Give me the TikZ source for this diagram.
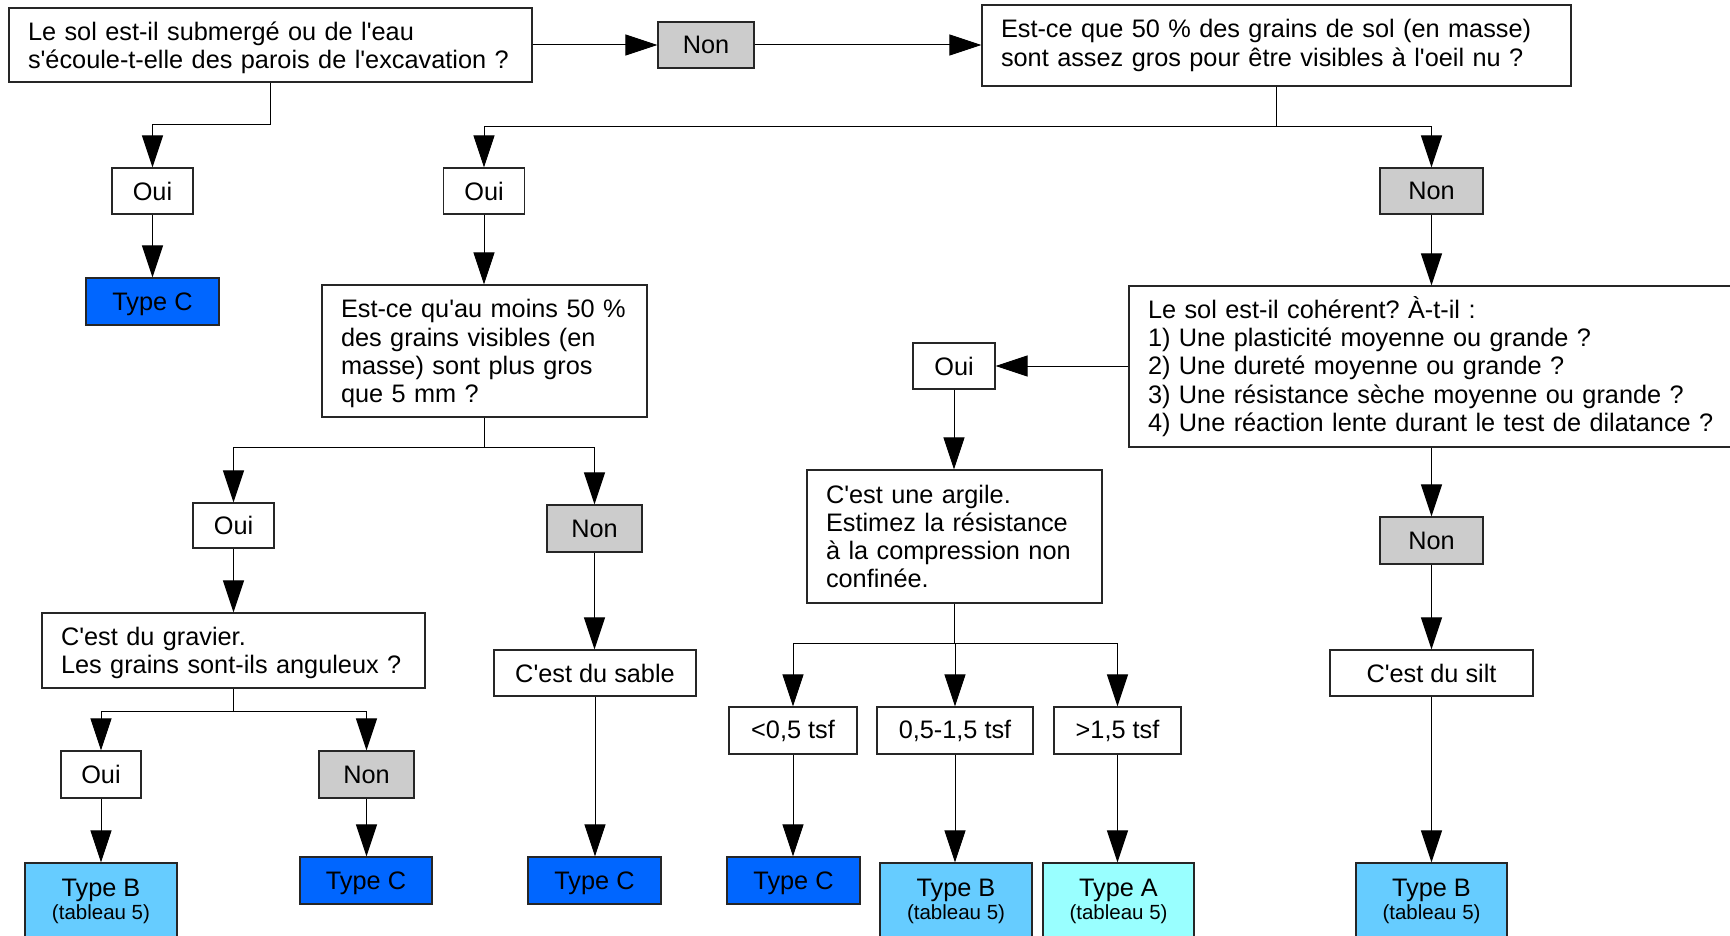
\documentclass[tikz,border=0pt]{standalone}
\usepackage{fontspec}
\setmainfont{Liberation Sans}
\newfontfamily\libsans{Liberation Sans}
\usetikzlibrary{arrows.meta}
\definecolor{typec}{HTML}{0066FF}
\definecolor{typeb}{HTML}{66CCFF}
\definecolor{typea}{HTML}{99FFFF}
\definecolor{nongrey}{HTML}{CCCCCC}
\newcommand\mainf{\libsans\frenchspacing\fontsize{25.3}{28.3}\selectfont}
\newcommand\smallf{\fontsize{20.5}{23}\selectfont}
\newcommand\tallstrut{\rule{0pt}{23.8pt}}
\begin{document}
\begin{tikzpicture}[x=1pt,y=-1pt, font=\mainf,
  box/.style={draw=black!85, line width=1.2pt, fill=white, inner sep=0pt, align=center},
  qbox/.style={draw=black!85, line width=1.2pt, fill=white, inner xsep=19pt, inner ysep=0pt, align=left},
  greybox/.style={box, fill=nongrey},
  tcbox/.style={box, fill=typec, text depth=0pt},
  tbbox/.style={box, fill=typeb, font=\mainf\fontsize{25.3}{23}\selectfont},
  tabox/.style={box, fill=typea, font=\mainf\fontsize{25.3}{23}\selectfont},
  arr/.style={line width=1pt, -{Triangle[length=32pt,width=21pt]}},
  ln/.style={line width=1pt}]
\useasboundingbox (0,0) rectangle (1730,936);

% question boxes
\node[qbox, text width=485pt, minimum height=74pt] (q1) at (270.5,45)
  {\tallstrut\mbox{Le sol est-il submergé ou de l'eau}\\\mbox{s'écoule-t-elle des parois de l'excavation ?}};
\node[qbox, text width=551pt, minimum height=81pt] (q2) at (1276.5,45.5)
  {\mbox{Est-ce que 50 \% des grains de sol (en masse)}\\\mbox{sont assez gros pour être visibles à l'oeil nu ?}};
\node[qbox, text width=287pt, minimum height=132pt] (q3) at (484.5,351)
  {\tallstrut\mbox{Est-ce qu'au moins 50 \%}\\\mbox{des grains visibles (en}\\\mbox{masse) sont plus gros}\\\mbox{que 5 mm ?}};
\node[qbox, text width=345pt, minimum height=75pt] (grav) at (233.5,650.5)
  {\tallstrut\mbox{C'est du gravier.}\\\mbox{Les grains sont-ils anguleux ?}};
\node[qbox, text width=578pt, minimum height=161pt] (q4) at (1437,366.5)
  {\mbox{Le sol est-il cohérent? À-t-il :}\\\mbox{1) Une plasticité moyenne ou grande ?}\\\mbox{2) Une dureté moyenne ou grande ?}\\\mbox{3) Une résistance sèche moyenne ou grande ?}\\\mbox{4) Une réaction lente durant le test de dilatance ?}};
\node[qbox, text width=257pt, minimum height=133pt] (argile) at (954.5,536.5)
  {\mbox{C'est une argile.}\\\mbox{Estimez la résistance}\\\mbox{à la compression non}\\\mbox{confinée.}};

% answer boxes
\node[greybox, minimum width=96pt, minimum height=46pt] (non1) at (706,45) {Non};
\node[box, minimum width=81pt, minimum height=46pt] (oui1) at (152.5,191) {Oui};
\node[box, minimum width=81pt, minimum height=46pt] (oui2) at (484,191) {Oui};
\node[greybox, minimum width=103pt, minimum height=46pt] (non2) at (1431.5,191) {Non};
\node[box, minimum width=81pt, minimum height=45pt] (oui4) at (233.5,525.5) {Oui};
\node[greybox, minimum width=95pt, minimum height=47pt] (non4) at (594.5,528.5) {Non};
\node[box, minimum width=80pt, minimum height=47pt] (oui5) at (101,774.5) {Oui};
\node[greybox, minimum width=95pt, minimum height=47pt] (non5) at (366.5,774.5) {Non};
\node[box, minimum width=202pt, minimum height=46pt] (sable) at (595,673) {C'est du sable};
\node[box, minimum width=82pt, minimum height=46pt] (oui3) at (954,366) {Oui};
\node[box, minimum width=128pt, minimum height=47pt] (lt) at (793,730.5) {<0,5 tsf};
\node[box, minimum width=156pt, minimum height=47pt] (mid) at (955,730.5) {0,5-1,5 tsf};
\node[box, minimum width=127pt, minimum height=47pt] (gt) at (1117.5,730.5) {>1,5 tsf};
\node[greybox, minimum width=103pt, minimum height=47pt] (non6) at (1431.5,540.5) {Non};
\node[box, minimum width=203pt, minimum height=46pt] (silt) at (1431.5,673) {C'est du silt};

% result boxes
\node[tcbox, minimum width=133pt, minimum height=47pt] (tc1) at (152.5,301.5) {Type C};
\node[tbbox, minimum width=152pt, minimum height=77pt] (tb1) at (101,901.5) {Type B\\{\smallf (tableau 5)}};
\node[tcbox, minimum width=132pt, minimum height=47pt] (tc2) at (366,880.5) {Type C};
\node[tcbox, minimum width=133pt, minimum height=47pt] (tc3) at (594.5,880.5) {Type C};
\node[tcbox, minimum width=133pt, minimum height=47pt] (tc4) at (793.5,880.5) {Type C};
\node[tbbox, minimum width=152pt, minimum height=77pt] (tb2) at (956,901.5) {Type B\\{\smallf (tableau 5)}};
\node[tabox, minimum width=151pt, minimum height=77pt] (ta) at (1118.5,901.5) {Type A\\{\smallf (tableau 5)}};
\node[tbbox, minimum width=151pt, minimum height=77pt] (tb3) at (1431.5,901.5) {Type B\\{\smallf (tableau 5)}};

% branch points
\coordinate (b1) at (270.5,125);
\coordinate (b2) at (1276.5,127);
\coordinate (b3) at (484.5,447);
\coordinate (b4) at (233.5,711);
\coordinate (b5) at (954.5,643);

% connectors
\draw[arr] (q1.east) -- (non1.west);
\draw[arr] (non1.east) -- (non1.east -| q2.west);
\draw[ln] (q1.south) -- (b1);
\draw[arr] (b1) -| (oui1.north);
\draw[arr] (oui1.south) -- (tc1.north);
\draw[ln] (q2.south) -- (b2);
\draw[arr] (b2) -| (oui2.north);
\draw[arr] (b2) -| (non2.north);
\draw[arr] (oui2.south) -- (oui2.south |- q3.north);
\draw[arr] (non2.south) -- (non2.south |- q4.north);
\draw[ln] (q3.south) -- (b3);
\draw[arr] (b3) -| (oui4.north);
\draw[arr] (b3) -| (non4.north);
\draw[arr] (oui4.south) -- (grav.north);
\draw[ln] (grav.south) -- (b4);
\draw[arr] (b4) -| (oui5.north);
\draw[arr] (b4) -| (non5.north);
\draw[arr] (oui5.south) -- (tb1.north);
\draw[arr] (non5.south) -- (non5.south |- tc2.north);
\draw[arr] (non4.south) -- (non4.south |- sable.north);
\draw[arr] (sable.south) -- (sable.south |- tc3.north);
\draw[arr] (oui3.east -| q4.west) -- (oui3.east);
\draw[arr] (oui3.south) -- (oui3.south |- argile.north);
\draw[ln] (argile.south) -- (b5);
\draw[arr] (b5) -| (lt.north);
\draw[arr] (b5) -| (mid.north);
\draw[arr] (b5) -| (gt.north);
\draw[arr] (lt.south) -- (lt.south |- tc4.north);
\draw[arr] (mid.south) -- (mid.south |- tb2.north);
\draw[arr] (gt.south) -- (gt.south |- ta.north);
\draw[arr] (q4.south -| non6) -- (non6.north);
\draw[arr] (non6.south) -- (silt.north);
\draw[arr] (silt.south) -- (tb3.north);
\end{tikzpicture}
\end{document}
